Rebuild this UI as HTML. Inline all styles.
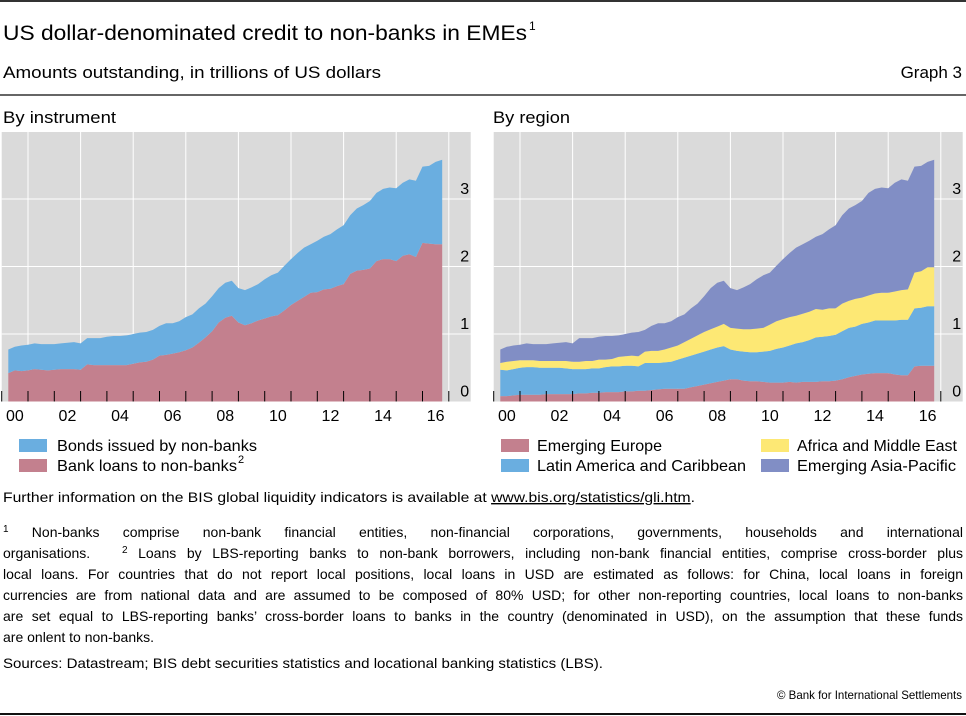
<!DOCTYPE html>
<html><head><meta charset="utf-8"><style>
body{margin:0;background:#fff}
#wrap{position:relative;width:966px;height:716px}
svg{display:block;font-family:"Liberation Sans",sans-serif;fill:#000}
#fn{position:absolute;left:3px;top:522px;width:960px;font-family:"Liberation Sans",sans-serif;font-size:14px;line-height:21px;color:#000;margin:0}
#fn div{text-align:justify;text-align-last:justify;height:21px;overflow:visible}
#fn div.last{text-align-last:left}
#fn sup{font-size:10px;line-height:0;vertical-align:5px}
</style></head><body>
<div id="wrap">
<svg id="c" width="966" height="716" viewBox="0 0 966 716">
<line x1="0" y1="1" x2="966" y2="1" stroke="#333" stroke-width="2"/>
<text x="3" y="40" font-size="21" textLength="524" lengthAdjust="spacingAndGlyphs">US dollar-denominated credit to non-banks in EMEs</text>
<text x="529" y="30" font-size="12">1</text>
<text x="3" y="78" font-size="17" textLength="378" lengthAdjust="spacingAndGlyphs">Amounts outstanding, in trillions of US dollars</text>
<text x="962" y="78" font-size="17" text-anchor="end">Graph 3</text>
<line x1="0" y1="95" x2="966" y2="95" stroke="#333" stroke-width="1.5"/>
<text x="3" y="123" font-size="17" textLength="113" lengthAdjust="spacingAndGlyphs">By instrument</text>
<text x="493" y="123" font-size="17" textLength="77" lengthAdjust="spacingAndGlyphs">By region</text>
<g id="left"></g>
<g id="right"></g>

<g>
<rect x="19" y="439" width="28" height="13" fill="#6aaee0"/>
<text x="57" y="451" font-size="16" textLength="200" lengthAdjust="spacingAndGlyphs">Bonds issued by non-banks</text>
<rect x="19" y="459" width="28" height="13" fill="#c3808e"/>
<text x="57" y="471" font-size="16" textLength="180" lengthAdjust="spacingAndGlyphs">Bank loans to non-banks</text>
<text x="238" y="463" font-size="11">2</text>
</g>
<g>
<rect x="501" y="439" width="28" height="13" fill="#c3808e"/>
<text x="537" y="451" font-size="16" textLength="125" lengthAdjust="spacingAndGlyphs">Emerging Europe</text>
<rect x="501" y="459" width="28" height="13" fill="#6aaee0"/>
<text x="537" y="471" font-size="16" textLength="209" lengthAdjust="spacingAndGlyphs">Latin America and Caribbean</text>
<rect x="761" y="439" width="28" height="13" fill="#fde874"/>
<text x="797" y="451" font-size="16" textLength="160" lengthAdjust="spacingAndGlyphs">Africa and Middle East</text>
<rect x="761" y="459" width="28" height="13" fill="#818ec5"/>
<text x="797" y="471" font-size="16" textLength="159" lengthAdjust="spacingAndGlyphs">Emerging Asia-Pacific</text>
</g>

<text x="3" y="502" font-size="14" textLength="692" lengthAdjust="spacingAndGlyphs">Further information on the BIS global liquidity indicators is available at <tspan text-decoration="underline">www.bis.org/statistics/gli.htm</tspan>.</text>
<text x="3" y="668" font-size="14" textLength="600" lengthAdjust="spacingAndGlyphs">Sources: Datastream; BIS debt securities statistics and locational banking statistics (LBS).</text>
<text x="962" y="699" font-size="12" text-anchor="end" textLength="185" lengthAdjust="spacingAndGlyphs">© Bank for International Settlements</text>
<line x1="0" y1="714" x2="966" y2="714" stroke="#111" stroke-width="2"/>
</svg>
<div id="fn">
<div><sup>1</sup> Non-banks comprise non-bank financial entities, non-financial corporations, governments, households and international</div>
<div>organisations. &nbsp; <sup>2</sup> Loans by LBS-reporting banks to non-bank borrowers, including non-bank financial entities, comprise cross-border plus</div>
<div>local loans. For countries that do not report local positions, local loans in USD are estimated as follows: for China, local loans in foreign</div>
<div>currencies are from national data and are assumed to be composed of 80% USD; for other non-reporting countries, local loans to non-banks</div>
<div>are set equal to LBS-reporting banks’ cross-border loans to banks in the country (denominated in USD), on the assumption that these funds</div>
<div class="last">are onlent to non-banks.</div>
</div>
</div>
<script>
const startYear = 2000.25;
const totalCredit = [0.77,0.81,0.83,0.84,0.86,0.85,0.85,0.85,0.86,0.87,0.88,0.86,0.94,0.94,0.94,0.96,0.97,0.97,0.98,1.00,1.02,1.03,1.06,1.12,1.16,1.16,1.19,1.25,1.29,1.38,1.45,1.56,1.68,1.76,1.79,1.68,1.65,1.69,1.74,1.81,1.87,1.91,2.01,2.11,2.20,2.28,2.33,2.38,2.44,2.48,2.55,2.61,2.76,2.86,2.91,2.97,3.09,3.15,3.17,3.16,3.24,3.29,3.27,3.48,3.49,3.55,3.58];
const bankLoans = [0.42,0.46,0.45,0.46,0.48,0.47,0.46,0.47,0.48,0.48,0.48,0.47,0.55,0.54,0.54,0.54,0.54,0.54,0.54,0.56,0.58,0.59,0.62,0.68,0.69,0.71,0.73,0.76,0.80,0.87,0.95,1.04,1.17,1.24,1.27,1.17,1.13,1.16,1.20,1.23,1.26,1.28,1.35,1.43,1.49,1.55,1.61,1.62,1.66,1.67,1.71,1.74,1.89,1.94,1.95,1.97,2.08,2.11,2.11,2.08,2.16,2.18,2.14,2.35,2.34,2.33,2.33];
const europeTop = [0.08,0.08,0.09,0.10,0.10,0.10,0.10,0.11,0.11,0.11,0.11,0.11,0.12,0.12,0.13,0.13,0.14,0.14,0.14,0.15,0.15,0.16,0.16,0.17,0.18,0.19,0.19,0.19,0.19,0.21,0.23,0.25,0.27,0.29,0.31,0.33,0.33,0.31,0.30,0.30,0.29,0.28,0.28,0.28,0.29,0.28,0.29,0.29,0.29,0.30,0.30,0.31,0.33,0.36,0.38,0.40,0.41,0.42,0.42,0.42,0.40,0.39,0.39,0.52,0.53,0.53,0.53];
const latamTop = [0.47,0.46,0.48,0.50,0.51,0.51,0.50,0.50,0.50,0.50,0.49,0.48,0.48,0.48,0.49,0.49,0.51,0.52,0.52,0.53,0.53,0.52,0.57,0.57,0.57,0.58,0.59,0.62,0.65,0.68,0.71,0.74,0.77,0.80,0.82,0.77,0.75,0.74,0.73,0.73,0.74,0.75,0.78,0.80,0.83,0.86,0.88,0.91,0.95,0.96,0.97,0.99,1.04,1.09,1.11,1.15,1.17,1.20,1.20,1.20,1.20,1.21,1.21,1.38,1.39,1.41,1.41];
const africaTop = [0.57,0.59,0.60,0.61,0.61,0.61,0.60,0.60,0.60,0.60,0.60,0.59,0.59,0.60,0.60,0.62,0.62,0.63,0.66,0.67,0.68,0.67,0.74,0.75,0.75,0.77,0.80,0.83,0.88,0.93,0.98,1.03,1.07,1.11,1.15,1.09,1.08,1.07,1.07,1.08,1.09,1.14,1.19,1.22,1.25,1.27,1.30,1.33,1.37,1.36,1.38,1.38,1.45,1.49,1.52,1.54,1.57,1.60,1.61,1.61,1.63,1.65,1.66,1.91,1.93,1.99,1.99];
const yTicks = [0,1,2,3];
const xLabels = ["00","02","04","06","08","10","12","14","16"];
const NS="http://www.w3.org/2000/svg";
function mk(tag, attrs, parent){const e=document.createElementNS(NS,tag);for(const k in attrs)e.setAttribute(k,attrs[k]);parent.appendChild(e);return e;}
function panel(g, x0, series){
  const X=t=>x0+26.3*(t-2000), Y=v=>401.5-67.5*v, W=469;
  const bg=mk('rect',{x:x0,y:132,width:W,height:269.5,fill:'#dadada'},g);
  
  
  for(let yr=2001;yr<=2017;yr+=2){const l=mk('line',{x1:X(yr),x2:X(yr),y1:132,y2:401.5,stroke:'#fff','stroke-width':1},g);
    
    }
  yTicks.forEach(v=>{if(v>0){const l=mk('line',{x1:x0,x2:x0+W,y1:Y(v),y2:Y(v),stroke:'#fff','stroke-width':1},g);
    
    }});
  let lower=null;
  series.forEach(s=>{
    const n=s.vals.length;let d='';
    for(let i=0;i<n;i++)d+=(i?'L':'M')+X(startYear+i*0.25).toFixed(1)+','+Y(s.vals[i]).toFixed(1);
    for(let i=n-1;i>=0;i--)d+='L'+X(startYear+i*0.25).toFixed(1)+','+Y(lower?lower[i]:0).toFixed(1);
    const p=mk('path',{d:d+'Z',fill:s.color},g);
    
    
    lower=s.vals;
  });
  for(let yr=2000;yr<=2017;yr++){const tk=mk('line',{x1:X(yr),x2:X(yr),y1:391,y2:401.5,stroke:'#000','stroke-width':1},g);
    
    }
  yTicks.forEach(v=>{const t=mk('text',{x:x0+W-6,y:Y(v)-5,'font-size':16,'text-anchor':'middle'},g);t.textContent=v;
    
    });
  xLabels.forEach((lb,i)=>{const t=mk('text',{x:X(2000+2*i+0.5),y:421,'font-size':16,'text-anchor':'middle'},g);t.textContent=lb;
    
    });
}
panel(document.getElementById('left'),1.7,[
  {vals:bankLoans,color:'#c3808e',name:'area-bank-loans'},
  {vals:totalCredit,color:'#6aaee0',name:'area-bonds'}]);
panel(document.getElementById('right'),493.7,[
  {vals:europeTop,color:'#c3808e',name:'area-emerging-europe'},
  {vals:latamTop,color:'#6aaee0',name:'area-latin-america'},
  {vals:africaTop,color:'#fde874',name:'area-africa-middle-east'},
  {vals:totalCredit,color:'#818ec5',name:'area-emerging-asia'}]);
</script>
</body></html>
